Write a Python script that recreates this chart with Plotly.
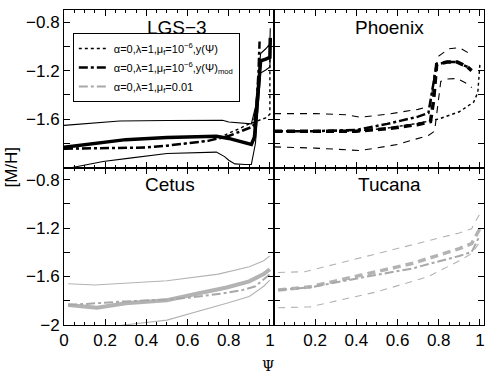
import plotly.graph_objects as go
from plotly.subplots import make_subplots

# ---------------- data ----------------
# LGS-3 (observed: solid black; models black)
lgs_x_up = [0.0, 0.27, 0.5, 0.77, 0.8, 0.88, 0.91, 0.93, 0.945, 0.955, 0.98, 1.0, 1.002]
lgs_up = [-1.652, -1.616, -1.612, -1.61, -1.625, -1.638, -1.64, -1.5, -1.25, -1.06, -1.02, -0.98, -0.85]
lgs_x_med = [0.0, 0.1, 0.2, 0.3, 0.5, 0.65, 0.74, 0.8, 0.88, 0.91, 0.925, 0.935, 0.945, 0.955, 0.98, 1.0, 1.002]
lgs_med = [-1.832, -1.81, -1.785, -1.77, -1.752, -1.745, -1.743, -1.76, -1.80, -1.81, -1.75, -1.55, -1.3, -1.12, -1.105, -1.09, -0.93]
lgs_x_lo = [0.04, 0.1, 0.19, 0.31, 0.5, 0.74, 0.78, 0.8, 0.83, 0.88, 0.91, 0.93, 0.945, 0.955, 0.98, 1.0, 1.002]
lgs_lo = [-2.0, -1.98, -1.95, -1.925, -1.885, -1.873, -1.91, -1.94, -1.97, -1.975, -1.975, -1.8, -1.42, -1.22, -1.195, -1.17, -1.0]
lgs_x_mod = [0.0, 0.2, 0.4, 0.5, 0.6, 0.7, 0.8, 0.85, 0.89, 0.92, 0.935, 0.945, 0.95]
lgs_mod = [-1.845, -1.842, -1.835, -1.82, -1.80, -1.78, -1.74, -1.71, -1.68, -1.66, -1.5, -1.2, -0.96]
lgs_x_dot = [0.0, 0.2, 0.4, 0.5, 0.6, 0.7, 0.75, 0.8, 0.85, 0.9, 0.95, 0.98, 1.0, 1.0]
lgs_dot = [-1.845, -1.842, -1.835, -1.82, -1.80, -1.78, -1.755, -1.72, -1.68, -1.64, -1.605, -1.59, -1.56, -1.0]

# Phoenix (observed: dashed black; models black)
phx_x_up = [0.0, 0.2, 0.35, 0.42, 0.55, 0.7, 0.76, 0.78, 0.8, 0.85, 0.9, 0.94, 0.96]
phx_up = [-1.555, -1.555, -1.565, -1.585, -1.56, -1.52, -1.49, -1.2, -1.08, -1.02, -1.01, -1.05, -1.08]
phx_x_med = [0.0, 0.2, 0.4, 0.55, 0.7, 0.76, 0.775, 0.79, 0.84, 0.89, 0.94, 0.96]
phx_med = [-1.70, -1.70, -1.70, -1.68, -1.645, -1.62, -1.45, -1.15, -1.13, -1.13, -1.17, -1.2]
phx_x_lo = [0.0, 0.2, 0.42, 0.6, 0.75, 0.78, 0.81, 0.84, 0.89, 0.95, 0.96]
phx_lo = [-1.83, -1.84, -1.86, -1.81, -1.735, -1.70, -1.29, -1.27, -1.265, -1.32, -1.34]
phx_x_mod = [0.0, 0.2, 0.4, 0.55, 0.7, 0.75, 0.77, 0.79, 0.84, 0.89, 0.94]
phx_mod = [-1.70, -1.70, -1.69, -1.64, -1.58, -1.55, -1.35, -1.15, -1.13, -1.13, -1.17]
phx_x_dot = [0.0, 0.4, 0.55, 0.7, 0.8, 0.9, 0.97, 0.99, 1.0]
phx_dot = [-1.70, -1.70, -1.675, -1.635, -1.60, -1.54, -1.46, -1.38, -1.15]

# Cetus (observed: solid grey; model grey)
cet_x_up = [0.02, 0.15, 0.5, 0.75, 0.9, 0.97, 1.0]
cet_up = [-1.66, -1.67, -1.635, -1.58, -1.52, -1.47, -1.43]
cet_x_med = [0.02, 0.1, 0.16, 0.3, 0.5, 0.65, 0.79, 0.9, 0.97, 1.0]
cet_med = [-1.835, -1.845, -1.858, -1.82, -1.795, -1.74, -1.69, -1.64, -1.58, -1.54]
cet_x_lo = [0.2, 0.29, 0.5, 0.65, 0.79, 0.9, 0.97, 1.0]
cet_lo = [-2.03, -2.0, -1.96, -1.89, -1.82, -1.765, -1.68, -1.63]
cet_x_mod = [0.02, 0.16, 0.3, 0.5, 0.63, 0.77, 0.87, 0.93, 0.98, 1.0]
cet_mod = [-1.835, -1.82, -1.805, -1.79, -1.77, -1.74, -1.71, -1.68, -1.61, -1.58]

# Tucana (observed: dashed grey; model grey)
tuc_x_up = [0.02, 0.15, 0.34, 0.67, 0.9, 0.96, 1.0]
tuc_up = [-1.567, -1.56, -1.48, -1.34, -1.24, -1.205, -1.08]
tuc_x_med = [0.02, 0.175, 0.42, 0.67, 0.9, 0.96, 1.0]
tuc_med = [-1.712, -1.685, -1.59, -1.493, -1.37, -1.328, -1.205]
tuc_x_lo = [0.02, 0.175, 0.5, 0.75, 0.9, 0.96, 1.0]
tuc_lo = [-1.858, -1.85, -1.726, -1.60, -1.47, -1.41, -1.315]
tuc_x_mod = [0.02, 0.175, 0.42, 0.67, 0.9, 0.96, 1.0]
tuc_mod = [-1.712, -1.69, -1.61, -1.534, -1.43, -1.397, -1.26]

panel_titles = ["LGS\u22123", "Phoenix", "Cetus", "Tucana"]
legend_names = [
    "\u03b1=0,\u03bb=1,\u03bc<sub>f</sub>=10<sup>\u22126</sup>,y(\u03a8)",
    "\u03b1=0,\u03bb=1,\u03bc<sub>f</sub>=10<sup>\u22126</sup>,y(\u03a8)<sub>mod</sub>",
    "\u03b1=0,\u03bb=1,\u03bc<sub>f</sub>=0.01",
]
x_tick_vals = [0.0, 0.2, 0.4, 0.6, 0.8, 1.0]
x_tick_text_left = ["0", "0.2", "0.4", "0.6", "0.8", "1"]
x_tick_text_right = [" ", "0.2", "0.4", "0.6", "0.8", "1"]
y_tick_vals = [-0.8, -1.0, -1.2, -1.4, -1.6, -1.8, -2.0]
y_tick_text_top = ["\u22120.8", " ", "\u22121.2", " ", "\u22121.6", " ", " "]
y_tick_text_bot = ["\u22120.8", " ", "\u22121.2", " ", "\u22121.6", " ", "\u22122"]

# ---------------- figure ----------------
FONT = "Liberation Sans, Arial, Helvetica, sans-serif"
BLACK = "#000000"
GREY = "#b3b3b3"
GREY_M = "#a8a8a8"

fig = make_subplots(rows=2, cols=2, horizontal_spacing=0, vertical_spacing=0)


def add(x, y, row, col, color, width, dash, name=None, show=False):
    fig.add_trace(go.Scatter(x=x, y=y, mode="lines", name=name, showlegend=show,
                             line=dict(color=color, width=width, dash=dash),
                             hoverinfo="skip"), row=row, col=col)


# LGS-3
add(lgs_x_up, lgs_up, 1, 1, BLACK, 1.1, "solid")
add(lgs_x_lo, lgs_lo, 1, 1, BLACK, 1.1, "solid")
add(lgs_x_dot, lgs_dot, 1, 1, BLACK, 1.4, "dot", legend_names[0], True)
add(lgs_x_mod, lgs_mod, 1, 1, BLACK, 2.5, "dashdot", legend_names[1], True)
add(lgs_x_med, lgs_med, 1, 1, BLACK, 3.5, "solid")
# legend-only grey entry
add([None], [None], 1, 1, GREY_M, 2, "dashdot", legend_names[2], True)

# Phoenix
add(phx_x_up, phx_up, 1, 2, BLACK, 1.1, "7px,6px")
add(phx_x_lo, phx_lo, 1, 2, BLACK, 1.1, "7px,6px")
add(phx_x_dot, phx_dot, 1, 2, BLACK, 1.4, "dot")
add(phx_x_mod, phx_mod, 1, 2, BLACK, 2.5, "dashdot")
add(phx_x_med, phx_med, 1, 2, BLACK, 3.5, "8px,5px")

# Cetus
add(cet_x_up, cet_up, 2, 1, GREY, 1.1, "solid")
add(cet_x_lo, cet_lo, 2, 1, GREY, 1.1, "solid")
add(cet_x_med, cet_med, 2, 1, GREY, 4, "solid")
add(cet_x_mod, cet_mod, 2, 1, GREY_M, 2, "dashdot")

# Tucana
add(tuc_x_up, tuc_up, 2, 2, GREY, 1.1, "7px,6px")
add(tuc_x_lo, tuc_lo, 2, 2, GREY, 1.1, "7px,6px")
add(tuc_x_med, tuc_med, 2, 2, GREY, 3.5, "8px,5px")
add(tuc_x_mod, tuc_mod, 2, 2, GREY_M, 2, "dashdot")

axis_common = dict(showgrid=False, zeroline=False, showline=True, linecolor="black",
                   linewidth=1, mirror="ticks", ticks="inside", tickcolor="black",
                   ticklen=6, tickwidth=1, tickfont=dict(family=FONT, size=17, color="black"))

for r in (1, 2):
    for c in (1, 2):
        xt = (x_tick_text_left if c == 1 else x_tick_text_right) if r == 2 else [" "] * 6
        fig.update_xaxes(range=[0, 1.02], tickmode="array", tickvals=x_tick_vals, ticktext=xt,
                         minor=dict(ticks="inside", dtick=0.05, tick0=0, ticklen=3,
                                    tickcolor="black", showgrid=False),
                         row=r, col=c, **axis_common)
        yt = (y_tick_text_top if r == 1 else y_tick_text_bot) if c == 1 else [" "] * 7
        fig.update_yaxes(range=[-2.0, -0.7], tickmode="array", tickvals=y_tick_vals, ticktext=yt,
                         row=r, col=c, **axis_common)

# panel titles
title_pos = [(1, 0.538), (2, 0.548), (3, 0.505), (4, 0.552)]
for (k, xpos), txt in zip(title_pos, panel_titles):
    sfx = "" if k == 1 else str(k)
    fig.add_annotation(text=txt, x=xpos, y=0.89, xref=f"x{sfx} domain", yref=f"y{sfx} domain",
                       showarrow=False, font=dict(family=FONT, size=19, color="black"),
                       xanchor="center", yanchor="middle")

# axis titles
fig.add_annotation(text="\u03a8", x=0.486, y=-0.13, xref="paper", yref="paper", showarrow=False,
                   font=dict(family="DejaVu Serif, serif", size=14, color="black"),
                   xanchor="center", yanchor="middle")
fig.add_annotation(text="[M/H]", x=-0.126, y=0.5, xref="paper", yref="paper", showarrow=False,
                   textangle=-90, font=dict(family=FONT, size=17, color="black"),
                   xanchor="center", yanchor="middle")

fig.update_layout(
    width=491, height=376,
    margin=dict(l=64, r=7, t=10, b=51),
    paper_bgcolor="white", plot_bgcolor="white",
    legend=dict(x=0.021, y=0.927, xanchor="left", yanchor="top",
                bordercolor="black", borderwidth=1, bgcolor="white",
                font=dict(family=FONT, size=11, color="black"),
                tracegroupgap=0, itemwidth=30),
    showlegend=True,
)

fig.write_html("out.html", config={"displayModeBar": False},
               post_script="document.body.style.margin='0';document.body.style.padding='0';")
